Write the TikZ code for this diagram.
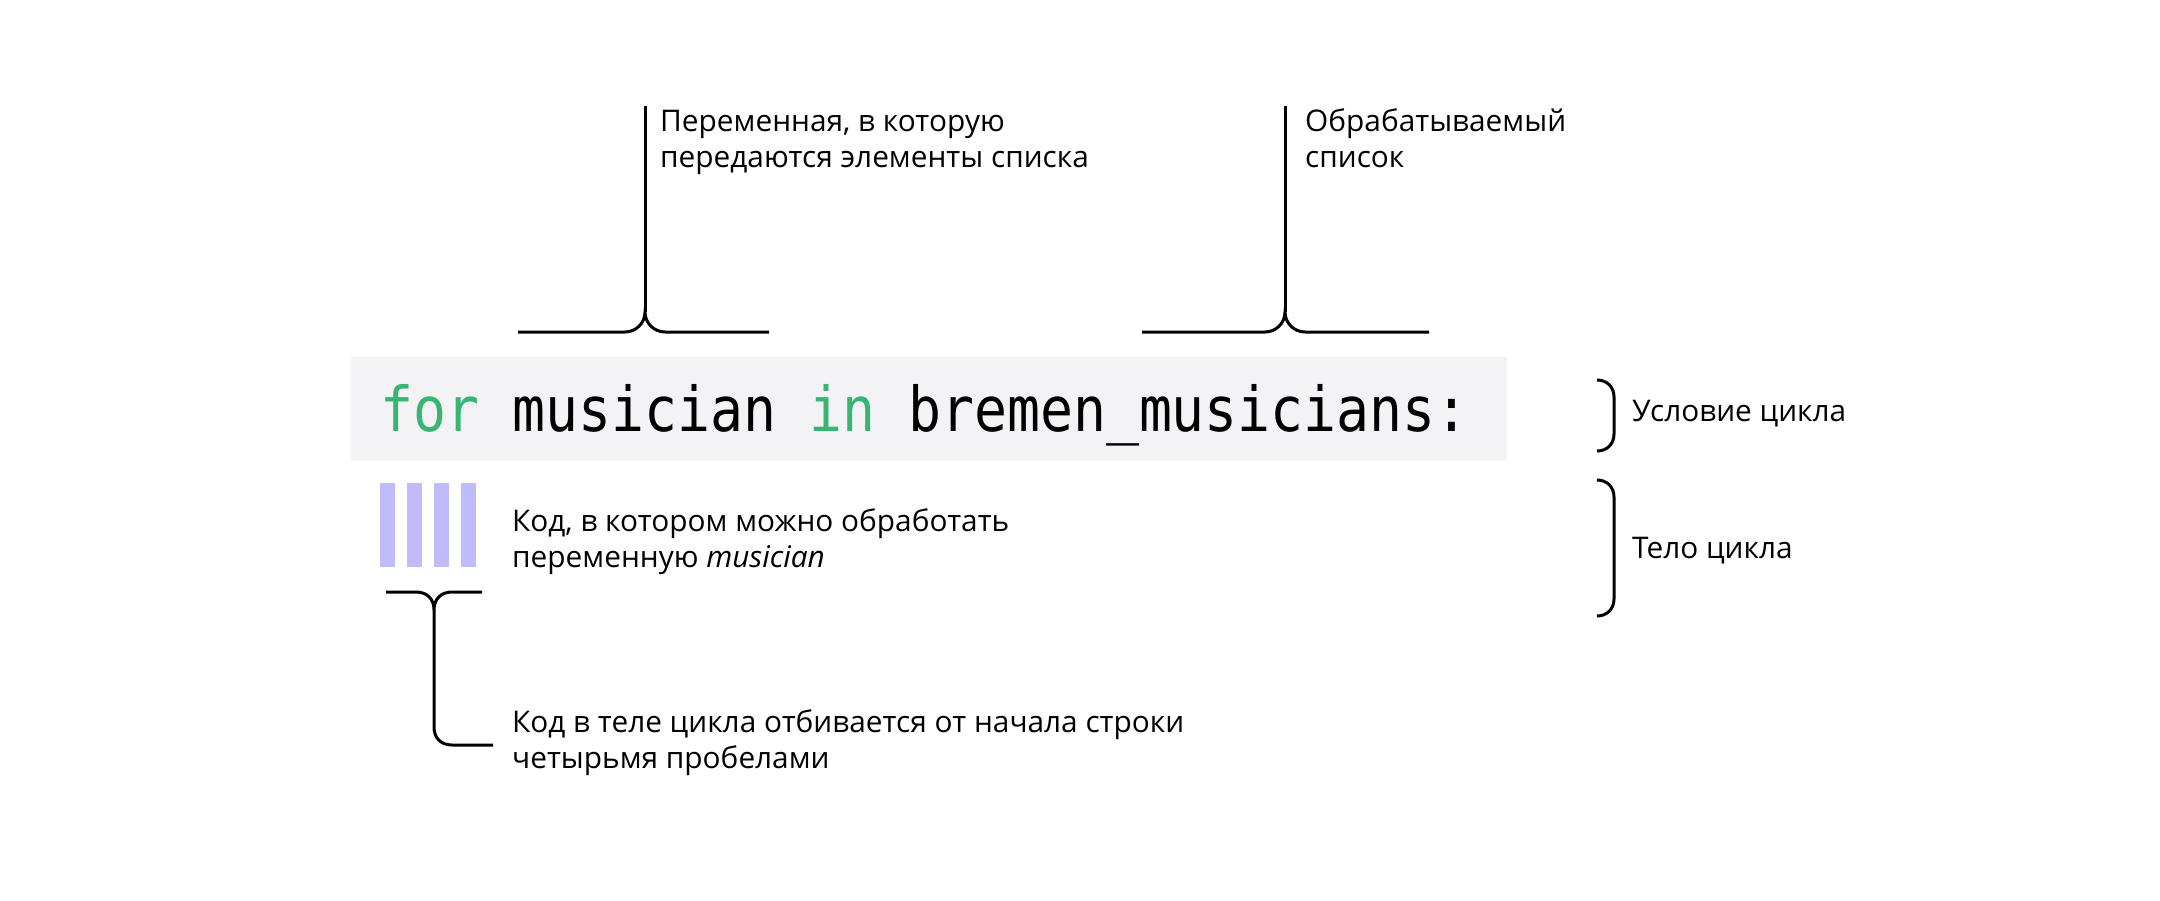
\documentclass[tikz,border=0pt]{standalone}
\usepackage{fontspec}
\setmainfont{Open Sans}
\newfontfamily\codefont{DejaVu Sans Mono}
\definecolor{kw}{RGB}{56,180,115}
\definecolor{barcol}{RGB}{192,188,252}
\definecolor{codebg}{RGB}{243,243,245}
\begin{document}
\begin{tikzpicture}[x=1pt,y=-1pt,
  br/.style={line width=3pt},
  lbl/.style={inner sep=0pt, anchor=base west, align=left, font=\fontsize{29.8}{36}\selectfont},
  barbox/.style={fill=barcol, draw=none, minimum width=15pt, minimum height=84pt, inner sep=0pt, anchor=north west},
  codebox/.style={fill=codebg, draw=none, inner sep=0pt, anchor=north west, minimum width=1156pt, minimum height=104pt}]
\useasboundingbox[fill=white] (0,0) rectangle (2160,901);
% code box
\node[codebox] (box) at (351,357) {};
\node[inner sep=0pt, anchor=base west, font=\codefont\fontsize{54.8}{60}\selectfont] (code) at (380,431)
  {\scalebox{1}[1.13]{\textcolor{kw}{for} musician \textcolor{kw}{in} bremen\_musicians:}};
% labels
\node[lbl] (t1) at (660,168) {Переменная, в которую\\передаются элементы списка};
\node[lbl] (t2) at (1305,168) {Обрабатываемый\\список};
\node[lbl] (t3) at (1632,421) {Условие цикла};
\node[lbl] (t4) at (1632,558) {Тело цикла};
\node[lbl] (t5) at (512,567) {Код, в котором можно обработать\\переменную \textit{musician}};
\node[lbl] (t6) at (512,768) {Код в теле цикла отбивается от начала строки\\четырьмя пробелами};
% bars
\node[barbox] (b1) at (380,483) {};
\node[barbox] (b2) at (407,483) {};
\node[barbox] (b3) at (434,483) {};
\node[barbox] (b4) at (461,483) {};
% top left bracket
\draw[br] (518,332) -- (625,332) .. controls (636,332) and (645,323) .. (645,312)
  .. controls (645,323) and (654,332) .. (665,332) -- (769,332);
\draw[br] (645,312) -- (645,106);
% top right bracket
\draw[br] (1142,332) -- (1265,332) .. controls (1276,332) and (1285,323) .. (1285,312)
  .. controls (1285,323) and (1294,332) .. (1305,332) -- (1429,332);
\draw[br] (1285,312) -- (1285,106);
% right braces
\draw[br] (1597,380) .. controls (1607,380) and (1614,387) .. (1614,397) -- (1614,434)
  .. controls (1614,444) and (1607,451) .. (1597,451);
\draw[br] (1597,480) .. controls (1607,480) and (1614,487) .. (1614,497) -- (1614,599)
  .. controls (1614,609) and (1607,616) .. (1597,616);
% bottom bracket
\draw[br] (386,592) -- (416,592) .. controls (427,592) and (434,599) .. (434,610)
  .. controls (434,599) and (441,592) .. (452,592) -- (482,592);
\draw[br] (434,610) -- (434,727) .. controls (434,738) and (441,745) .. (452,745) -- (493,745);
\end{tikzpicture}
\end{document}
